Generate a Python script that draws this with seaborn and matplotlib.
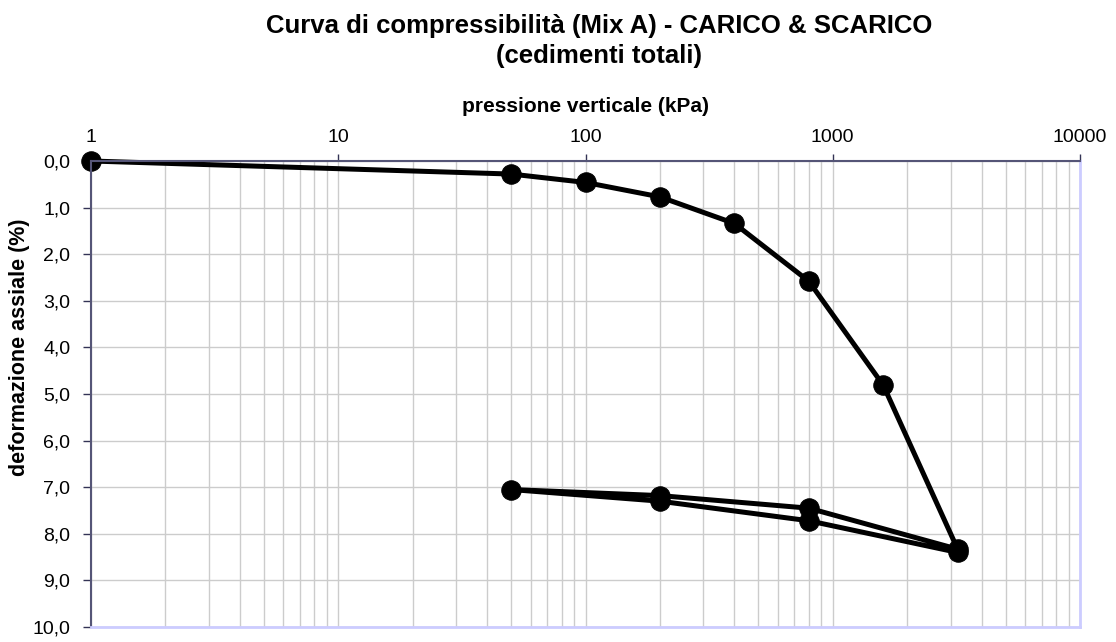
import matplotlib
matplotlib.use("Agg")
import matplotlib.pyplot as plt
import matplotlib.ticker as mticker
import numpy as np
import pandas as pd
import seaborn as sns

# Oedometer test: loading, unloading and reloading steps
pressione_kpa = [1, 50, 100, 200, 400, 800, 1600, 3200, 800, 200, 50, 200, 800, 3200]
deformazione_pct = [0.0, 0.28, 0.46, 0.77, 1.34, 2.58, 4.81, 8.33, 7.45, 7.18, 7.05, 7.30, 7.72, 8.40]
y_ticks = [0, 1, 2, 3, 4, 5, 6, 7, 8, 9, 10]
x_ticks = [1, 10, 100, 1000, 10000]

df = pd.DataFrame({"p": pressione_kpa, "eps": deformazione_pct, "step": range(len(pressione_kpa))})

sns.set_theme(style="white")
plt.rcParams["font.family"] = ["Liberation Sans", "DejaVu Sans"]
plt.rcParams.update({"text.color": "black", "axes.labelcolor": "black",
                     "xtick.labelcolor": "black", "ytick.labelcolor": "black"})

fig = plt.figure(figsize=(11.16, 6.42), dpi=100)
ax = fig.add_axes([91 / 1116, 1 - 627 / 642, (1080 - 91) / 1116, (627 - 161) / 642])

ax.set_xscale("log")
sns.lineplot(data=df, x="p", y="eps", sort=False, estimator=None, ax=ax,
             color="black", linewidth=3.6, marker="o", markersize=14,
             markeredgecolor="black", markerfacecolor="black")

ax.set_xlim(1, 10000)
ax.set_ylim(10, 0)

ax.xaxis.set_major_locator(mticker.FixedLocator(x_ticks))
ax.xaxis.set_major_formatter(mticker.FuncFormatter(lambda v, _: f"{int(round(v))}"))
ax.xaxis.set_minor_locator(mticker.LogLocator(base=10, subs=np.arange(2, 10)))
ax.xaxis.set_minor_formatter(mticker.NullFormatter())
ax.xaxis.tick_top()
ax.xaxis.set_label_position("top")
ax.set_yticks(y_ticks)
ax.yaxis.set_major_formatter(mticker.FuncFormatter(lambda v, _: f"{v:.1f}".replace(".", ",")))

ax.grid(True, which="both", axis="x", color="#cccccc", linewidth=1)
ax.grid(True, which="major", axis="y", color="#cccccc", linewidth=1)
ax.set_axisbelow(True)

ax.tick_params(axis="x", which="major", top=True, bottom=False, direction="out",
               length=5, width=1, color="#333355", labelsize=14, pad=6)
ax.tick_params(axis="x", which="minor", top=False, bottom=False)
ax.tick_params(axis="y", which="major", left=True, direction="out",
               length=6, width=1, color="#333355", labelsize=14, pad=9)

for side in ("left", "top"):
    ax.spines[side].set_color("#555577")
    ax.spines[side].set_linewidth(1.5)
for side in ("right", "bottom"):
    ax.spines[side].set_color("#ccccff")
    ax.spines[side].set_linewidth(2)

ax.set_xlabel("pressione verticale (kPa)", fontsize=15, fontweight="bold", labelpad=12)
ax.set_ylabel("deformazione assiale (%)", fontsize=15.5, fontweight="bold")
ax.yaxis.set_label_coords(-61 / 989, 0.6)

fig.text(0.537, 0.978, "Curva di compressibilità (Mix A) - CARICO & SCARICO\n(cedimenti totali)",
         ha="center", va="top", fontsize=18.5, fontweight="bold", linespacing=1.33)

for line in ax.lines:
    line.set_clip_on(False)

fig.savefig("out.png", dpi=100)
